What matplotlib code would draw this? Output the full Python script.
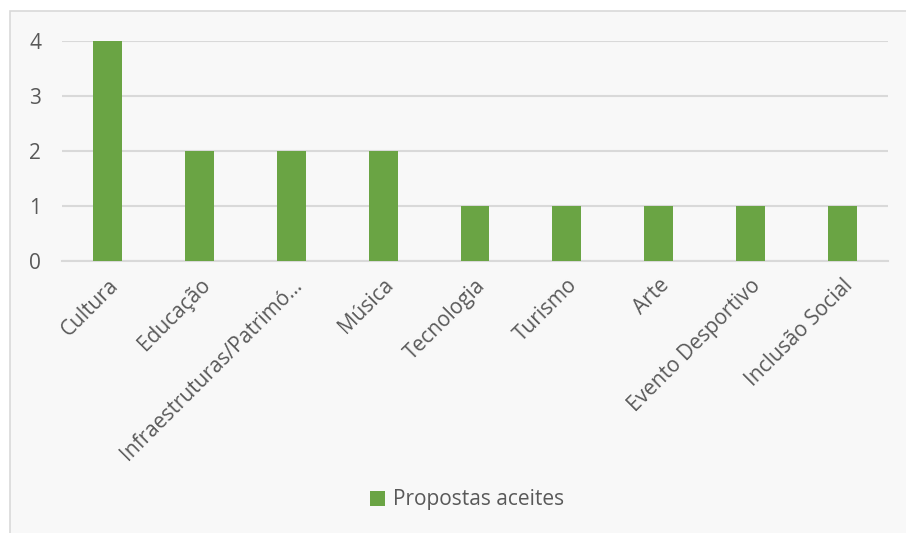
import matplotlib
matplotlib.use("Agg")
import matplotlib.pyplot as plt
from matplotlib.patches import Rectangle

categories = ["Cultura", "Educação", "Infraestruturas/Patrimó…", "Música", "Tecnologia",
              "Turismo", "Arte", "Evento Desportivo", "Inclusão Social"]
values = [4, 2, 2, 2, 1, 1, 1, 1, 1]
yticks = [0, 1, 2, 3, 4]
series_name = "Propostas aceites"

W, H = 906, 533
fig = plt.figure(figsize=(W/100, H/100), dpi=100)
fig.patch.set_facecolor("white")
fig.patches.append(Rectangle((10/W, -0.1), 1.2, 1.1 - 11/H, transform=fig.transFigure,
                             facecolor="#F8F8F8", edgecolor="#D9D9D9", linewidth=1.2, zorder=-10))

ax = fig.add_axes([62/W, 1 - 261/H, (888-62)/W, (261-41)/H])
ax.set_facecolor("none")
green = "#6AA444"
x = list(range(len(categories)))
ax.bar(x, values, width=0.315, color=green, zorder=3, label=series_name)
ax.set_xlim(-0.5, len(categories) - 0.5)
ax.set_ylim(0, 4)
ax.set_yticks(yticks)
ax.set_yticklabels([str(v) for v in yticks], fontsize=15, color="#595959", family="Open Sans")
ax.yaxis.grid(True, color="#D9D9D9", linewidth=1.5, zorder=0)
ax.set_axisbelow(True)
ax.tick_params(axis="y", length=0, pad=15)
ax.tick_params(axis="x", length=0, pad=10)
for s in ["top", "right", "left"]:
    ax.spines[s].set_visible(False)
ax.spines["bottom"].set_color("#D9D9D9")
ax.spines["bottom"].set_linewidth(1.5)
ax.set_xticks(x)
ax.set_xticklabels(categories, rotation=45, ha="right", va="top", rotation_mode="anchor",
                   fontsize=15, color="#595959", family="Open Sans")

leg = fig.legend(handles=ax.get_legend_handles_labels()[0], labels=[series_name],
                 loc="center", bbox_to_anchor=(467/W, 1 - 500/H), frameon=False,
                 prop={"family": "Open Sans", "size": 15}, handlelength=0.7, handleheight=0.7,
                 handletextpad=0.4)
for t in leg.get_texts():
    t.set_color("#595959")

fig.savefig("out.png", dpi=100, facecolor=fig.get_facecolor())
